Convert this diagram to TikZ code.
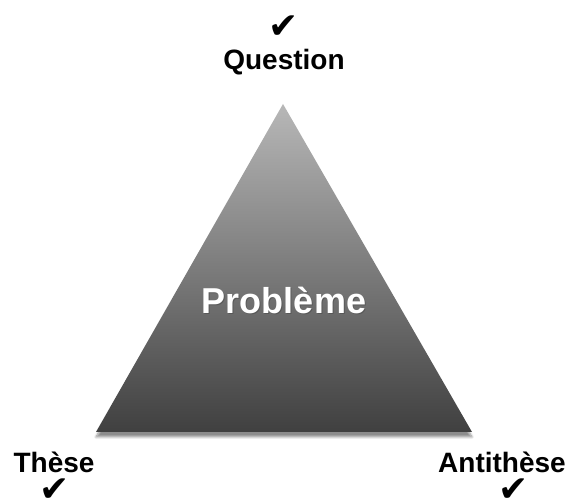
\documentclass[tikz,border=0pt]{standalone}
\usepackage{fontspec}
\setmainfont{Liberation Sans}
\newfontfamily\symfont{DejaVu Sans}
\usetikzlibrary{shadows.blur}
\tikzset{
  lbl/.style={font=\bfseries\fontsize{28}{30}\selectfont, text=black, inner sep=0pt, anchor=base},
  chk/.style={font=\symfont\fontsize{36}{38}\selectfont, text=black, inner sep=0pt},
}
\begin{document}
\begin{tikzpicture}[x=1pt,y=1pt]
\useasboundingbox (0,0) rectangle (571,502);
% triangle (pixel y -> 502 - y)
\coordinate (apex) at (283,398);
\coordinate (bl) at (96,70);
\coordinate (br) at (472,70);
\path[blur shadow={shadow xshift=0pt, shadow yshift=-5pt, shadow blur steps=8, shadow blur extra rounding=0pt, shadow opacity=45}]
  (apex) -- (br) -- (bl) -- cycle;
\shade[top color=black!28, bottom color=black!75] (apex) -- (br) -- (bl) -- cycle;
% center label with shadow
\node[font=\bfseries\fontsize{36}{38}\selectfont, text=black!70, opacity=0.6, inner sep=0pt] at (285,200.5) {Problème};
\node[font=\bfseries\fontsize{36}{38}\selectfont, text=white, inner sep=0pt] (prob) at (284,202) {Problème};
% labels
\node[lbl] (q) at (284,432) {Question};
\node[chk] (cq) at (284,475) {✔};
\node[lbl] (t) at (54,29) {Thèse};
\node[chk] (ct) at (55,12) {✔};
\node[lbl] (a) at (502,29) {Antithèse};
\node[chk] (ca) at (514,12) {✔};
\end{tikzpicture}
\end{document}
